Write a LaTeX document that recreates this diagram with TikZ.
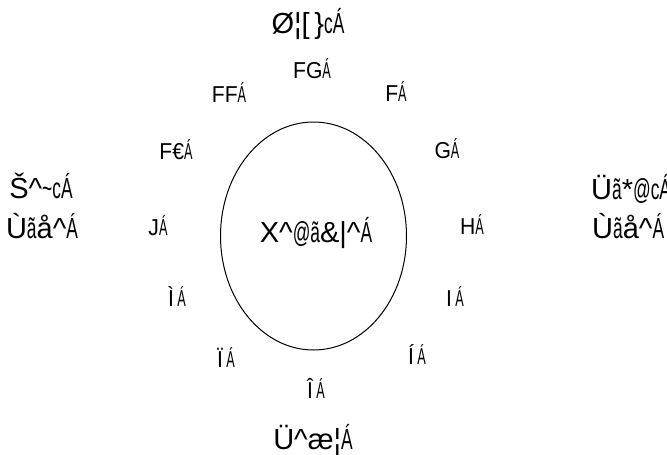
\documentclass[tikz,border=0pt]{standalone}
\usepackage{fontspec}
\usepackage{graphicx}
\usetikzlibrary{shapes.geometric}
\setmainfont{Liberation Sans}
\newcommand\nw[1]{\scalebox{0.6}[1]{#1}}
\newcommand\cl[1]{\scalebox{0.92}[1]{#1}}
\tikzset{
  lbl/.style={inner sep=0pt, font=\fontsize{23}{25}\selectfont},
  big/.style={inner sep=0pt, font=\fontsize{29}{31}\selectfont}
}
\begin{document}
\begin{tikzpicture}[x=1pt,y=-1pt]
\useasboundingbox (0,0) rectangle (667,455);
\node[draw, line width=1pt, ellipse, minimum width=186pt, minimum height=228pt, inner sep=0pt] (face) at (313.5,236) {};
\node[big] (title) at (308,24) {Ø¦[\,\}\nw{cÁ}};
\node[lbl] (h12) at (312,69) {\cl{FG\nw{Á}}};
\node[lbl] (h1) at (396,92) {\cl{F\nw{Á}}};
\node[lbl] (h2) at (447,149) {\cl{G\nw{Á}}};
\node[lbl] (h3) at (472,225) {\cl{H\nw{Á}}};
\node[lbl] (h4) at (455,297) {\cl{I\,\nw{Á}}};
\node[lbl] (h5) at (417,355) {\cl{Í\,\nw{Á}}};
\node[lbl] (h6) at (316,388) {\cl{Î\,\nw{Á}}};
\node[lbl] (h7) at (226,358) {\cl{Ï\,\nw{Á}}};
\node[lbl] (h8) at (177,297) {\cl{Ì\,\nw{Á}}};
\node[lbl] (h9) at (158,226) {\cl{J\nw{Á}}};
\node[lbl] (h10) at (176,150) {\cl{F€\nw{Á}}};
\node[lbl] (h11) at (229,93) {\cl{FF\nw{Á}}};
\node[big] (center) at (316,233) {X\^{}\nw{@ã}\&|\^{}\nw{Á}};
\node[big] (l1) at (41,186) {Š\^{}\nw{\~{}c}\nw{Á}};
\node[big] (l2) at (42,226) {Ù\nw{ã}å\^{}\nw{Á}};
\node[big, anchor=west] (r1) at (591,189) {Ü\nw{ã}*\nw{@c}\nw{Á}};
\node[big, anchor=west] (r2) at (592,226) {Ù\nw{ã}å\^{}\nw{Á}};
\node[big] (bottom) at (313,440) {Ü\^{}æ¦\nw{Á}};
\end{tikzpicture}
\end{document}
